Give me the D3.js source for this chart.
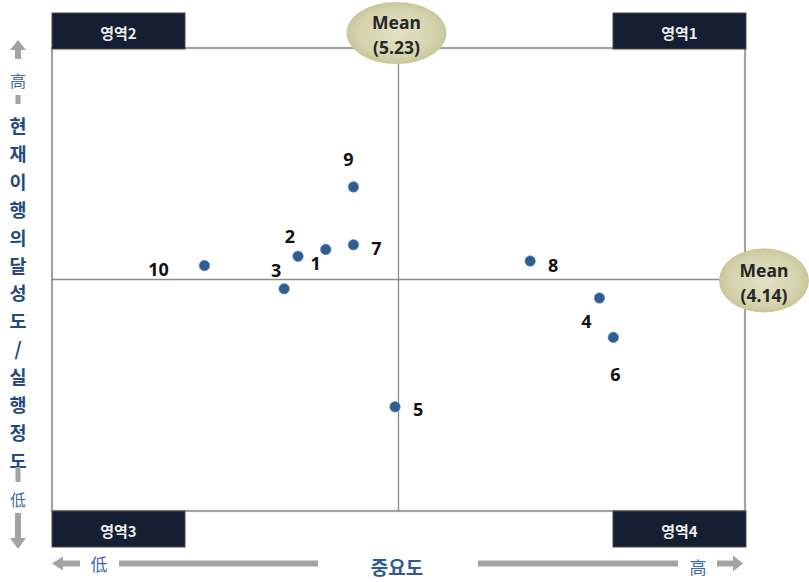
<!DOCTYPE html>
<html>
<head>
<meta charset="utf-8">
<script src="https://cdn.jsdelivr.net/npm/d3@7/dist/d3.min.js"></script>
<style>
  html, body { margin: 0; padding: 0; background: #fff; }
  svg { display: block; }
</style>
</head>
<body>
<svg id="chart" width="809" height="582"></svg>
<script>
// Items (1..10): importance (중요도) vs. current performance (현재이행의 달성도/실행정도)
const itemIds     = [1, 2, 3, 4, 5, 6, 7, 8, 9, 10];
const importance  = [5.02, 4.94, 4.90, 5.81, 5.22, 5.85, 5.10, 5.61, 5.10, 4.67];
const performance = [4.27, 4.24, 4.10, 4.06, 3.59, 3.89, 4.29, 4.22, 4.54, 4.20];
const meanImportance  = 5.23;
const meanPerformance = 4.14;
const quadrantNames = ["영역1", "영역2", "영역3", "영역4"];
const yAxisTitle = "현재이행의달성도/실행정도";
const xAxisTitle = "중요도";
const highLabel = "高";
const lowLabel  = "低";

const svg = d3.select("#chart");
const frame = { left: 52, right: 745, top: 48, bottom: 511 };

// Axes are centred on the mean values
const x = d3.scaleLinear()
  .domain([meanImportance - 1, meanImportance + 1])
  .range([frame.left, frame.right]);
const y = d3.scaleLinear()
  .domain([meanPerformance - 1, meanPerformance + 1])
  .range([frame.bottom, frame.top]);

const korFont = "'Noto Sans CJK KR', 'Noto Sans', sans-serif";
const grey = "#a3a3a3";

const defs = svg.append("defs");
const grad = defs.append("radialGradient").attr("id", "meanFill");
grad.append("stop").attr("offset", "0%").attr("stop-color", "#e2e0c3");
grad.append("stop").attr("offset", "75%").attr("stop-color", "#d6d4ae");
grad.append("stop").attr("offset", "100%").attr("stop-color", "#c9c69b");

// Plot frame
svg.append("rect")
  .attr("x", frame.left).attr("y", frame.top)
  .attr("width", frame.right - frame.left)
  .attr("height", frame.bottom - frame.top)
  .attr("fill", "none").attr("stroke", grey).attr("stroke-width", 2.2);

// Mean lines
svg.append("line")
  .attr("x1", x(meanImportance)).attr("x2", x(meanImportance))
  .attr("y1", frame.top).attr("y2", frame.bottom)
  .attr("stroke", "#8c8c8c").attr("stroke-width", 1.3);
svg.append("line")
  .attr("x1", frame.left).attr("x2", frame.right)
  .attr("y1", y(meanPerformance)).attr("y2", y(meanPerformance))
  .attr("stroke", "#8c8c8c").attr("stroke-width", 1.3);

// Quadrant name boxes
const boxW = 133, boxH = 36;
const boxes = [
  { name: quadrantNames[0], x0: frame.right + 1 - boxW, y0: 13 },
  { name: quadrantNames[1], x0: frame.left, y0: 13 },
  { name: quadrantNames[2], x0: frame.left, y0: 511 },
  { name: quadrantNames[3], x0: frame.right + 1 - boxW, y0: 511 }
];
const bg = svg.append("g");
boxes.forEach(b => {
  bg.append("rect")
    .attr("x", b.x0).attr("y", b.y0).attr("width", boxW).attr("height", boxH)
    .attr("fill", "#141f33").attr("stroke", "#4a4a4a").attr("stroke-width", 1);
  bg.append("text")
    .attr("x", b.x0 + boxW / 2).attr("y", b.y0 + boxH / 2 + 1)
    .attr("text-anchor", "middle").attr("dominant-baseline", "central")
    .attr("font-family", korFont).attr("font-weight", "bold")
    .attr("font-size", 15).attr("fill", "#ececec")
    .text(b.name);
});

// Mean badges
function meanBadge(cx, cy, rx, ry, value) {
  const g = svg.append("g");
  g.append("ellipse").attr("cx", cx).attr("cy", cy).attr("rx", rx).attr("ry", ry)
    .attr("fill", "url(#meanFill)");
  g.append("text").attr("x", cx).attr("y", cy - 11)
    .attr("text-anchor", "middle").attr("dominant-baseline", "central")
    .attr("font-family", "'Noto Sans', sans-serif").attr("font-weight", "bold")
    .attr("font-size", 17.5).attr("fill", "#262626").text("Mean");
  g.append("text").attr("x", cx).attr("y", cy + 14)
    .attr("text-anchor", "middle").attr("dominant-baseline", "central")
    .attr("font-family", "'Noto Sans', sans-serif").attr("font-weight", "bold")
    .attr("font-size", 17.5).attr("fill", "#262626").text("(" + value.toFixed(2) + ")");
}
meanBadge(x(meanImportance) - 2, 33, 50, 31, meanImportance);
meanBadge(764, y(meanPerformance) + 1, 45, 32, meanPerformance);

// Label placement around each point (dx, dy)
const labelOffset = {
  1: [-10, 14], 2: [-8, -20], 3: [-8, -19], 4: [-13, 23], 5: [23, 2],
  6: [2, 37], 7: [23, 3], 8: [23, 4], 9: [-5, -28], 10: [-46, 3]
};

const pts = itemIds.map((id, i) => ({ id, imp: importance[i], perf: performance[i] }));
const pg = svg.append("g");
pg.selectAll("circle").data(pts).join("circle")
  .attr("cx", d => x(d.imp)).attr("cy", d => y(d.perf)).attr("r", 5.3)
  .attr("fill", "#2f5e93").attr("stroke", "#6f95c0").attr("stroke-width", 0.6);
pg.selectAll("text").data(pts).join("text")
  .attr("x", d => x(d.imp) + labelOffset[d.id][0])
  .attr("y", d => y(d.perf) + labelOffset[d.id][1])
  .attr("text-anchor", "middle").attr("dominant-baseline", "central")
  .attr("font-family", "'Noto Sans', sans-serif").attr("font-weight", "bold")
  .attr("font-size", 18).attr("fill", "#111")
  .text(d => d.id);

// Vertical axis title with high/low arrows
const ax = 18;
const yg = svg.append("g");
yg.append("path").attr("d", `M${ax - 8},50 L${ax},40 L${ax + 8},50 L${ax + 3},50 L${ax + 3},59 L${ax - 3},59 L${ax - 3},50 Z`)
  .attr("fill", grey);
yg.append("text").attr("x", ax).attr("y", 80)
  .attr("text-anchor", "middle").attr("dominant-baseline", "central")
  .attr("font-family", "'Noto Sans CJK SC', sans-serif").attr("font-size", 16)
  .attr("fill", "#3f6aa8").text(highLabel);
yg.append("rect").attr("x", ax - 2.5).attr("y", 95).attr("width", 5).attr("height", 9).attr("fill", grey);
Array.from(yAxisTitle).forEach((ch, i) => {
  yg.append("text").attr("x", ax).attr("y", 125 + i * 27.9)
    .attr("text-anchor", "middle").attr("dominant-baseline", "central")
    .attr("font-family", korFont).attr("font-weight", "bold").attr("font-size", 18.5)
    .attr("fill", "#234a7c").text(ch);
});
yg.append("rect").attr("x", ax - 2.5).attr("y", 467).attr("width", 5).attr("height", 15).attr("fill", grey);
yg.append("text").attr("x", ax).attr("y", 499)
  .attr("text-anchor", "middle").attr("dominant-baseline", "central")
  .attr("font-family", "'Noto Sans CJK SC', sans-serif").attr("font-size", 16)
  .attr("fill", "#3f6aa8").text(lowLabel);
yg.append("path").attr("d", `M${ax - 3},513 L${ax + 3},513 L${ax + 3},538 L${ax + 8},538 L${ax},549 L${ax - 8},538 L${ax - 3},538 Z`)
  .attr("fill", grey);

// Horizontal axis title with low/high arrows
const ay = 563.5;
const xg = svg.append("g");
xg.append("path").attr("d", `M52,${ay} L63,${ay - 7} L63,${ay - 3} L80,${ay - 3} L80,${ay + 3} L63,${ay + 3} L63,${ay + 7} Z`)
  .attr("fill", grey);
xg.append("text").attr("x", 99).attr("y", ay)
  .attr("text-anchor", "middle").attr("dominant-baseline", "central")
  .attr("font-family", "'Noto Sans CJK SC', sans-serif").attr("font-size", 17)
  .attr("fill", "#3f6aa8").text(lowLabel);
xg.append("rect").attr("x", 119).attr("y", ay - 3).attr("width", 199).attr("height", 6).attr("fill", grey);
xg.append("text").attr("x", 397).attr("y", ay + 3)
  .attr("text-anchor", "middle").attr("dominant-baseline", "central")
  .attr("font-family", korFont).attr("font-weight", "bold").attr("font-size", 19)
  .attr("fill", "#2d5995").text(xAxisTitle);
xg.append("rect").attr("x", 478).attr("y", ay - 3).attr("width", 200).attr("height", 6).attr("fill", grey);
xg.append("text").attr("x", 698).attr("y", ay + 3)
  .attr("text-anchor", "middle").attr("dominant-baseline", "central")
  .attr("font-family", "'Noto Sans CJK SC', sans-serif").attr("font-size", 17)
  .attr("fill", "#3f6aa8").text(highLabel);
xg.append("path").attr("d", `M717,${ay - 3} L733,${ay - 3} L733,${ay - 8} L743,${ay} L733,${ay + 8} L733,${ay + 3} L717,${ay + 3} Z`)
  .attr("fill", grey);
</script>
</body>
</html>
